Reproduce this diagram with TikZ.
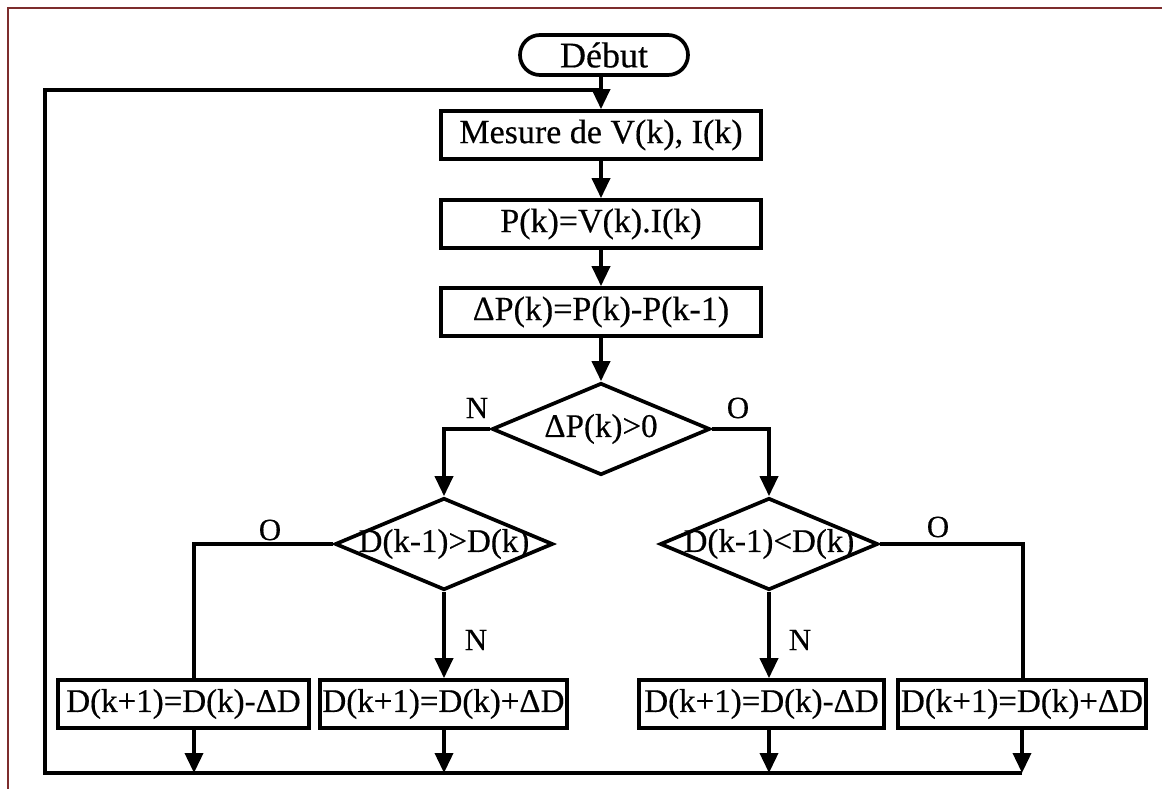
\documentclass[tikz,border=0pt]{standalone}
\usepackage{fontspec}
\setmainfont{Liberation Serif}[FakeBold=0.4]
\usetikzlibrary{shapes.geometric,arrows.meta,calc}
\definecolor{framecol}{RGB}{125,45,45}
\begin{document}
\begin{tikzpicture}[x=1pt,y=-1pt,
  line/.style={line width=3.7pt, line join=miter},
  arr/.style={line, -{Triangle[length=20pt,width=18pt]}},
  procbox/.style={draw, rectangle, line width=3.7pt, minimum height=48pt, inner sep=0pt, font=\fontsize{34}{40}\selectfont},
  lowbox/.style={procbox, font=\fontsize{33}{40}\selectfont},
  startbox/.style={draw, rectangle, rounded corners=20pt, line width=3.7pt, minimum width=168pt, minimum height=40pt, inner sep=0pt, font=\fontsize{36}{40}\selectfont},
  dia/.style={draw, diamond, line width=3.7pt, minimum width=218pt, minimum height=92pt, inner sep=0pt},
  dtext/.style={inner sep=0pt, font=\fontsize{33}{40}\selectfont},
  lbl/.style={inner sep=0pt, font=\fontsize{31}{36}\selectfont}
]
\useasboundingbox (0,0) rectangle (1162,789);
\fill[white] (0,0) rectangle (1162,789);
\draw[framecol, line width=2pt] (8,789) -- (8,8) -- (1162,8);

% nodes
\node[startbox] (debut) at (604,55) {Début};
\node[procbox, minimum width=320pt] (mes) at (601,135) {Mesure de V(k), I(k)};
\node[procbox, minimum width=320pt] (pk) at (601,224) {P(k)=V(k).I(k)};
\node[procbox, minimum width=320pt] (dpk) at (601,312) {ΔP(k)=P(k)-P(k-1)};
\node[dia] (d1) at (601,429) {};
\node[dtext] (d1t) at (d1) {ΔP(k)>0};
\node[dia] (d2) at (444,544) {};
\node[dtext] (d2t) at (d2) {D(k-1)>D(k)};
\node[dia] (d3) at (769,544) {};
\node[dtext] (d3t) at (d3) {D(k-1)<D(k)};
\node[lowbox, minimum width=251pt] (b1) at (183.5,704) {D(k+1)=D(k)-ΔD};
\node[lowbox, minimum width=247pt] (b2) at (443.5,704) {D(k+1)=D(k)+ΔD};
\node[lowbox, minimum width=245pt] (b3) at (761.5,704) {D(k+1)=D(k)-ΔD};
\node[lowbox, minimum width=248pt] (b4) at (1022,704) {D(k+1)=D(k)+ΔD};

% labels
\node[lbl] (n1) at (477,408) {N};
\node[lbl] (o1) at (738,408) {O};
\node[lbl] (o2) at (270,530) {O};
\node[lbl] (n2) at (476,640) {N};
\node[lbl] (n3) at (800,640) {N};
\node[lbl] (o3) at (938,527) {O};

% helper coordinates
\coordinate (join) at (601,90);
\coordinate (topL) at (45,90);
\coordinate (botL) at (45,773);
\coordinate (botR) at (1022,773);
\coordinate (c1l) at (444,429);
\coordinate (c1r) at (769,429);
\coordinate (c2) at (194,544);
\coordinate (c3) at (1023,544);

% connectors
\draw[arr] (debut.south -| join) -- (join |- mes.north);
\draw[line] (join) -- (topL) -- (botL) -- (botR);
\draw[arr] (mes) -- (pk);
\draw[arr] (pk) -- (dpk);
\draw[arr] (dpk) -- (d1);
\draw[arr] (d1.west) -- (c1l) -- (d2.north);
\draw[arr] (d1.east) -- (c1r) -- (d3.north);
\draw[line] (d2.west) -- (c2) -- (c2 |- b1.north);
\draw[line] (d3.east) -- (c3) -- (c3 |- b4.north);
\draw[arr] (d2.south) -- (d2.south |- b2.north);
\draw[arr] (d3.south) -- (d3.south |- b3.north);
\draw[arr] (b1.south -| c2) -- (c2 |- botL);
\draw[arr] (b2.south -| d2) -- (d2 |- botL);
\draw[arr] (b3.south -| d3) -- (d3 |- botL);
\draw[arr] (b4.south) -- (b4.south |- botL);
\end{tikzpicture}
\end{document}
